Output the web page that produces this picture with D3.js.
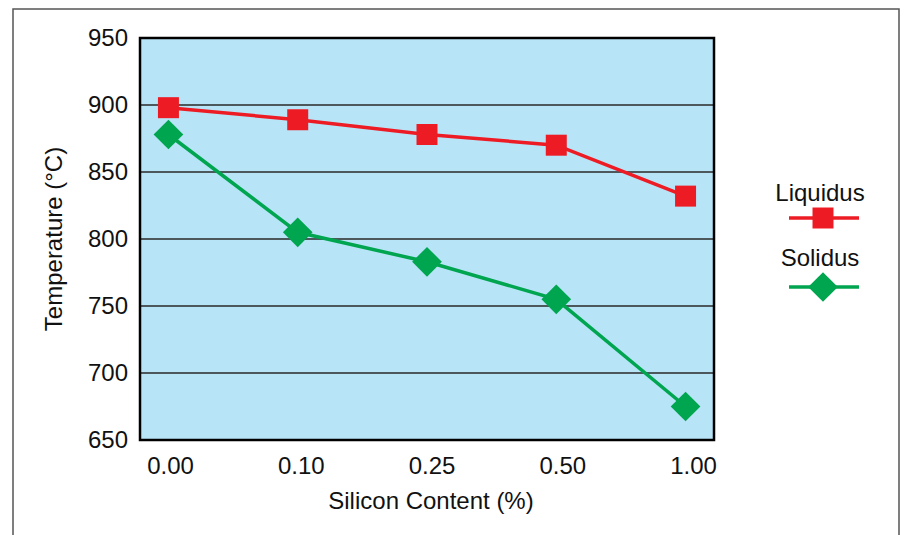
<!DOCTYPE html>
<html>
<head>
<meta charset="utf-8">
<script src="https://cdn.jsdelivr.net/npm/d3@7"></script>
<style>
  html, body { margin: 0; padding: 0; background: #fff; }
  svg { display: block; }
  text { font-family: "Liberation Sans", Arial, sans-serif; fill: #111; }
</style>
</head>
<body>
<svg id="chart" width="905" height="535"></svg>
<script>
// ---- data ----
const categories = ["0.00", "0.10", "0.25", "0.50", "1.00"];
const liquidus = [898, 889, 878, 870, 832];
const solidus = [878, 805, 783, 755, 675];
const yTicks = [650, 700, 750, 800, 850, 900, 950];
const seriesNames = ["Liquidus", "Solidus"];
const xTitle = "Silicon Content (%)";
const yTitle = "Temperature (\u00B0C)";

// ---- layout ----
const W = 905, H = 535;
const plot = { left: 140, right: 714, top: 38, bottom: 440 };
const RED = "#ED1C24", GREEN = "#00A54F", BG = "#B8E4F8";

const svg = d3.select("#chart");

// outer frame
svg.append("rect")
  .attr("x", 13).attr("y", 9).attr("width", 886).attr("height", 540)
  .attr("fill", "none").attr("stroke", "#555").attr("stroke-width", 1.5);

const x = d3.scalePoint().domain(categories).range([plot.left, plot.right]).padding(0.22);
const xLabel = d3.scalePoint().domain(categories).range([170, 693]);
const y = d3.scaleLinear().domain([650, 950]).range([plot.bottom, plot.top]);

// plot background
svg.append("rect")
  .attr("x", plot.left).attr("y", plot.top)
  .attr("width", plot.right - plot.left).attr("height", plot.bottom - plot.top)
  .attr("fill", BG);

// gridlines
svg.append("g")
  .selectAll("line")
  .data(yTicks.filter(t => t > 650 && t < 950))
  .join("line")
  .attr("x1", plot.left).attr("x2", plot.right)
  .attr("y1", d => y(d)).attr("y2", d => y(d))
  .attr("stroke", "#2a2a2a").attr("stroke-width", 1.5);

// y axis labels
const yAxis = d3.axisLeft(y).tickValues(yTicks).tickSize(0).tickPadding(12).tickFormat(d3.format("d"));
const gy = svg.append("g").attr("transform", `translate(${plot.left},0)`).call(yAxis);
gy.select(".domain").remove();
gy.selectAll("text").attr("font-size", 24).attr("font-family", "Liberation Sans, Arial, sans-serif").attr("fill", "#111");

// x axis labels
const xAxis = d3.axisBottom(xLabel).tickSize(0).tickPadding(0);
const gx = svg.append("g").attr("transform", `translate(0,${plot.bottom})`).call(xAxis);
gx.select(".domain").remove();
gx.selectAll("text").attr("font-size", 24).attr("font-family", "Liberation Sans, Arial, sans-serif")
  .attr("fill", "#111").attr("dy", null).attr("y", 34);

// plot border
svg.append("rect")
  .attr("x", plot.left).attr("y", plot.top)
  .attr("width", plot.right - plot.left).attr("height", plot.bottom - plot.top)
  .attr("fill", "none").attr("stroke", "#000").attr("stroke-width", 2.5);

// lines
const line = d3.line().x((d, i) => x(categories[i])).y(d => y(d));
svg.append("path").datum(liquidus).attr("d", line)
  .attr("fill", "none").attr("stroke", RED).attr("stroke-width", 3.5);
svg.append("path").datum(solidus).attr("d", line)
  .attr("fill", "none").attr("stroke", GREEN).attr("stroke-width", 3.5);

// markers
const sq = d3.symbol().type(d3.symbolSquare).size(21 * 21);
const dm = d3.symbol().type(d3.symbolSquare).size(21 * 21);
svg.append("g").selectAll("path").data(liquidus).join("path")
  .attr("d", sq)
  .attr("transform", (d, i) => `translate(${x(categories[i])},${y(d)})`)
  .attr("fill", RED);
svg.append("g").selectAll("path").data(solidus).join("path")
  .attr("d", dm)
  .attr("transform", (d, i) => `translate(${x(categories[i])},${y(d)}) rotate(45)`)
  .attr("fill", GREEN);

// axis titles
svg.append("text")
  .attr("x", (plot.left + plot.right) / 2 + 4).attr("y", 509)
  .attr("text-anchor", "middle").attr("font-size", 24)
  .text(xTitle);
svg.append("text")
  .attr("transform", `translate(62,${(plot.top + plot.bottom) / 2}) rotate(-90)`)
  .attr("text-anchor", "middle").attr("font-size", 24)
  .text(yTitle);

// legend
const legend = svg.append("g");
const legendItems = [
  { name: seriesNames[0], color: RED, textY: 201, lineY: 218, marker: "square" },
  { name: seriesNames[1], color: GREEN, textY: 266, lineY: 287, marker: "diamond" }
];
legendItems.forEach(it => {
  legend.append("text").attr("x", 820).attr("y", it.textY)
    .attr("text-anchor", "middle").attr("font-size", 24).text(it.name);
  legend.append("line").attr("x1", 789).attr("x2", 859)
    .attr("y1", it.lineY).attr("y2", it.lineY)
    .attr("stroke", it.color).attr("stroke-width", 3.5);
  legend.append("path")
    .attr("d", sq)
    .attr("transform", `translate(823,${it.lineY})` + (it.marker === "diamond" ? " rotate(45)" : ""))
    .attr("fill", it.color);
});
</script>
</body>
</html>
